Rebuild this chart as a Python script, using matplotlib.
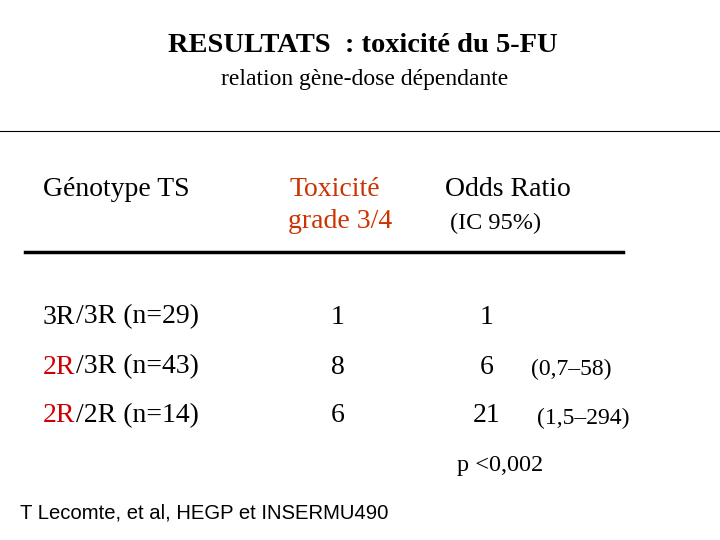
import matplotlib
matplotlib.use("Agg")
import matplotlib.pyplot as plt
from matplotlib.lines import Line2D

title = "RESULTATS  : toxicité du 5-FU"
subtitle = "relation gène-dose dépendante"
prefixes = ["3R", "2R", "2R"]
rests = ["/3R (n=29)", "/3R (n=43)", "/2R (n=14)"]
prefix_red = [False, True, True]
toxicity = ["1", "8", "6"]
odds = ["1", "6", "21"]
ci = ["", "(0,7–58)", "(1,5–294)"]
pvalue = "p <0,002"
footer = "T Lecomte, et al, HEGP et INSERMU490"

W, H = 720, 540
fig = plt.figure(figsize=(7.2, 5.4), dpi=100)
serif = ["Liberation Serif", "DejaVu Serif"]
RED = "#CC0000"
ORANGE = "#CC3300"

def px(x, y):
    return x / W, 1 - y / H

def put(x, y, s, size, color="black", ha="left", **kw):
    return fig.text(*px(x, y), s, fontsize=size, color=color, ha=ha,
                    va="center", family=serif, **kw)

put(363, 45, title, 20.5, ha="center", weight="bold")
put(365, 80, subtitle, 17, ha="center")

fig.add_artist(Line2D([0, 1], [1 - 131 / H] * 2, color="black", lw=0.8))
fig.add_artist(Line2D([25 / W, 623 / W], [1 - 252 / H] * 2, color="black", lw=2.5))

put(43, 189, "Génotype TS", 20)
put(290, 189, "Toxicité", 20, color=ORANGE)
put(288, 221, "grade 3/4", 20, color=ORANGE)
put(445, 189, "Odds Ratio", 20)
put(450, 223, "(IC 95%)", 17.5)

renderer = fig.canvas.get_renderer()
rows_y = [317, 367, 416]
for i, y in enumerate(rows_y):
    t = put(43, y, prefixes[i], 20, color=RED if prefix_red[i] else "black")
    w = t.get_window_extent(renderer).width
    put(43 + w, y, rests[i], 20)
    put(338, y, toxicity[i], 20, ha="center")
    put(487, y, odds[i], 20, ha="center")
    if ci[i]:
        put(531 + 6 * (i - 1), y + 2, ci[i], 17)

put(457, 465, pvalue, 17.5)
fig.text(*px(20, 513), footer, fontsize=14.6, va="center",
         family=["Liberation Sans", "DejaVu Sans"])

fig.savefig("out.png", dpi=100)
